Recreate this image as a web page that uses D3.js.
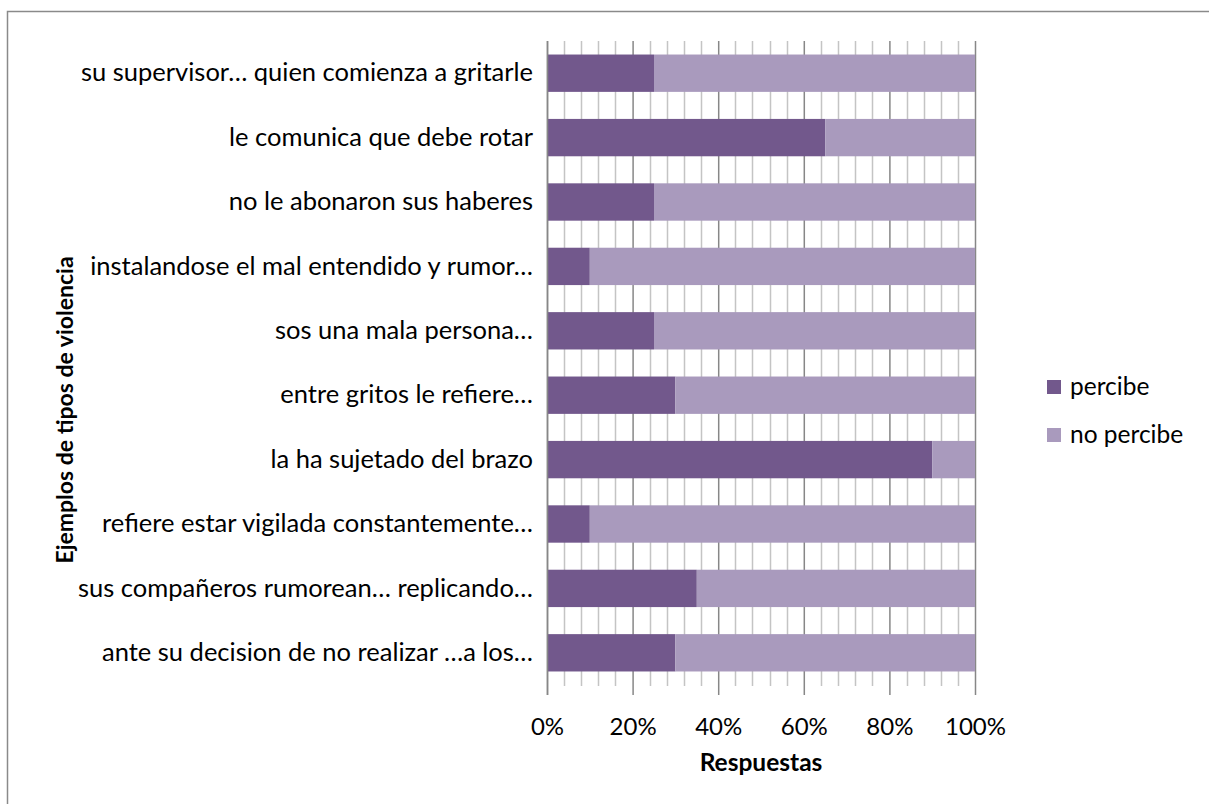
<!DOCTYPE html>
<html>
<head>
<meta charset="utf-8">
<script src="https://cdn.jsdelivr.net/npm/d3@7"></script>
<style>
  html, body { margin: 0; padding: 0; background: #fff; }
  svg { display: block; }
  text { font-family: Lato, "Open Sans", sans-serif; fill: #000; }
</style>
</head>
<body>
<svg id="chart" width="1209" height="804"></svg>
<script>
// Survey items (top to bottom) and share of answers per series
const categories = [
  "su supervisor… quien comienza a gritarle",
  "le comunica que debe rotar",
  "no le abonaron sus haberes",
  "instalandose el mal entendido y rumor…",
  "sos una mala persona…",
  "entre gritos le refiere…",
  "la ha sujetado del brazo",
  "refiere estar vigilada constantemente…",
  "sus compañeros rumorean… replicando…",
  "ante su decision de no realizar …a los…"
];
const percibe   = [0.25, 0.65, 0.25, 0.10, 0.25, 0.30, 0.90, 0.10, 0.35, 0.30];
const noPercibe = [0.75, 0.35, 0.75, 0.90, 0.75, 0.70, 0.10, 0.90, 0.65, 0.70];
const seriesNames = ["percibe", "no percibe"];
const seriesColors = ["#72588c", "#a99abd"];
const xTickValues = [0, 0.2, 0.4, 0.6, 0.8, 1.0];
const xTitle = "Respuestas";
const yTitle = "Ejemplos de tipos de violencia";

const svg = d3.select("#chart");
const plot = { left: 547, right: 975, top: 41, bottom: 685 };

// Outer chart frame
svg.append("rect")
  .attr("x", 7.5).attr("y", 11.5)
  .attr("width", 1210).attr("height", 810)
  .attr("fill", "#fff")
  .attr("stroke", "#8a8a8a").attr("stroke-width", 1.5);

const x = d3.scaleLinear().domain([0, 1]).range([plot.left, plot.right]);
const y = d3.scaleBand().domain(categories)
  .range([plot.top, plot.bottom])
  .paddingInner(0.42).paddingOuter(0.21);

// Minor gridlines every 4%
const minor = d3.range(0, 26).map(i => i * 0.04).filter(v => Math.abs(v * 5 - Math.round(v * 5)) > 1e-6);
svg.append("g")
  .selectAll("line").data(minor).join("line")
  .attr("x1", d => Math.round(x(d)) + 0.5).attr("x2", d => Math.round(x(d)) + 0.5)
  .attr("y1", plot.top).attr("y2", plot.bottom + 1)
  .attr("stroke", "#c4c4c4").attr("stroke-width", 1.5);

// Major gridlines with outward ticks, via a bottom axis
const xAxis = d3.axisBottom(x)
  .tickValues(xTickValues)
  .tickFormat(d3.format(".0%"))
  .tickSizeInner(-(plot.bottom - plot.top) - 10)
  .tickSizeOuter(0)
  .tickPadding(23);
const gx = svg.append("g")
  .attr("transform", `translate(0,${plot.bottom + 10})`)
  .call(xAxis);
gx.select(".domain").remove();
gx.selectAll(".tick line").attr("stroke", "#878787").attr("stroke-width", 1.5);
gx.selectAll(".tick text")
  .attr("font-size", 24)
  .attr("font-family", "Lato, sans-serif")
  .attr("fill", "#000");

// Stacked bars
const stackData = categories.map((c, i) => ({ cat: c, percibe: percibe[i], "no percibe": noPercibe[i] }));
const stacked = d3.stack().keys(seriesNames)(stackData);
svg.append("g")
  .selectAll("g").data(stacked).join("g")
  .attr("fill", (d, i) => seriesColors[i])
  .selectAll("rect").data(d => d).join("rect")
  .attr("x", d => x(d[0]))
  .attr("width", d => x(d[1]) - x(d[0]))
  .attr("y", d => y(d.data.cat))
  .attr("height", y.bandwidth());

// Category axis
const yAxis = d3.axisLeft(y).tickSize(0).tickPadding(14);
const gy = svg.append("g")
  .attr("transform", `translate(${plot.left},0)`)
  .call(yAxis);
gy.select(".domain").attr("stroke", "#878787").attr("stroke-width", 1.5)
  .attr("d", `M0.5,${plot.top}V${plot.bottom + 10}`);
gy.selectAll(".tick text")
  .attr("font-size", 25.5)
  .attr("font-family", "Lato, sans-serif")
  .attr("fill", "#000");

// Axis titles
svg.append("text")
  .attr("x", (plot.left + plot.right) / 2).attr("y", 771)
  .attr("text-anchor", "middle")
  .attr("font-size", 24.5).attr("font-weight", "bold")
  .text(xTitle);

svg.append("text")
  .attr("transform", "translate(73,410) rotate(-90)")
  .attr("text-anchor", "middle")
  .attr("font-size", 23).attr("font-weight", "bold")
  .text(yTitle);

// Legend
const legend = svg.append("g");
seriesNames.forEach((name, i) => {
  const ly = 387 + i * 48;
  legend.append("rect")
    .attr("x", 1047).attr("y", ly - 7)
    .attr("width", 14).attr("height", 14)
    .attr("fill", seriesColors[i]);
  legend.append("text")
    .attr("x", 1070).attr("y", ly + 8)
    .attr("font-size", 24.5)
    .text(name);
});
</script>
</body>
</html>
